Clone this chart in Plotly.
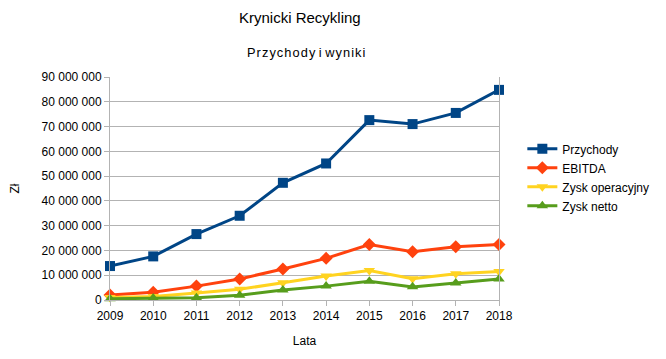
import plotly.graph_objects as go

years = [2009, 2010, 2011, 2012, 2013, 2014, 2015, 2016, 2017, 2018]
przychody = [13.7e6, 17.6e6, 26.6e6, 34.0e6, 47.3e6, 55.1e6, 72.6e6, 71.0e6, 75.5e6, 84.8e6]
ebitda = [2.0e6, 3.1e6, 5.6e6, 8.5e6, 12.5e6, 16.8e6, 22.4e6, 19.5e6, 21.5e6, 22.4e6]
zysk_oper = [1.0e6, 1.4e6, 2.8e6, 4.3e6, 7.0e6, 9.7e6, 11.9e6, 8.6e6, 10.6e6, 11.5e6]
zysk_netto = [0.5e6, 0.8e6, 0.9e6, 1.9e6, 4.0e6, 5.6e6, 7.6e6, 5.3e6, 6.9e6, 8.5e6]

series = [
    ("Przychody", przychody, "#004586", "square", 10),
    ("EBITDA", ebitda, "#ff420e", "diamond", 10),
    ("Zysk operacyjny", zysk_oper, "#ffd320", "triangle-down", 10),
    ("Zysk netto", zysk_netto, "#579d1c", "triangle-up", 10),
]

fig = go.Figure()
for name, vals, color, sym, size in series:
    fig.add_trace(go.Scatter(
        x=years, y=vals, name=name, mode="lines+markers",
        line=dict(color=color, width=3),
        marker=dict(symbol=sym, size=size, color=color),
        cliponaxis=False,
    ))

font = "Liberation Sans, Arial, sans-serif"
fig.update_layout(
    width=658, height=351,
    margin=dict(l=102, r=167, t=69, b=59, autoexpand=False),
    paper_bgcolor="white", plot_bgcolor="white",
    font=dict(family=font, size=12, color="#000000"),
    separators=". ",
    showlegend=True,
    legend=dict(x=1.06, y=0.55, xanchor="left", yanchor="middle",
                font=dict(size=12), tracegroupgap=0, itemwidth=30,
                bgcolor="rgba(0,0,0,0)"),
    annotations=[
        dict(text="Krynicki Recykling", x=0.488, y=18, xref="paper", yref="paper",
             showarrow=False, font=dict(size=15)),
        dict(text="\u200a".join("Przychody") + " " + "i" + " " + "\u200a".join("wyniki"),
             x=0.505, y=53, xref="paper", yref="paper", showarrow=False, font=dict(size=12.8)),
    ],
)
# convert annotation y pixels (window) to paper coords
plot_top, plot_bottom = 77, 300
for a in fig.layout.annotations:
    ypix = a.y
    a.y = (plot_bottom - ypix) / (plot_bottom - plot_top)
    a.yanchor = "middle"

fig.update_xaxes(
    range=[2009, 2018], tickmode="array", tickvals=years, ticktext=[str(y) for y in years],
    ticks="outside", ticklen=5, tickcolor="#b3b3b3", showgrid=False,
    showline=True, linecolor="#b3b3b3", linewidth=1, zeroline=False,
    title=dict(text="Lata", font=dict(size=12), standoff=14),
    tickfont=dict(size=12), automargin=False,
)
fig.update_yaxes(
    range=[0, 90e6], dtick=10e6, tickformat=",d",
    ticks="outside", ticklen=5, tickcolor="#b3b3b3",
    showgrid=True, gridcolor="#b3b3b3", gridwidth=1,
    showline=True, linecolor="#b3b3b3", linewidth=1, mirror=True, zeroline=False,
    title=dict(text="Zł", font=dict(size=12), standoff=19),
    tickfont=dict(size=12), automargin=False,
)

fig.write_html("out.html")
